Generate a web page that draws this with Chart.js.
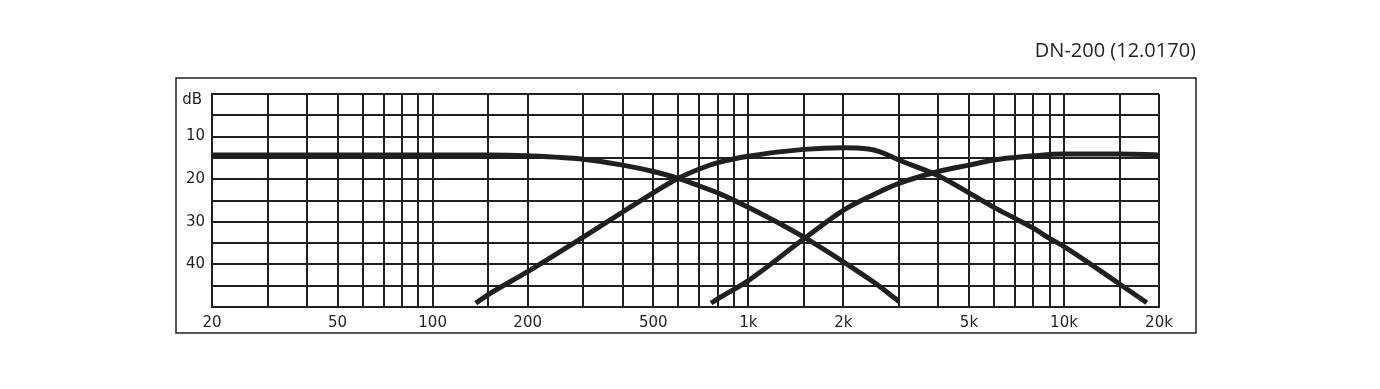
<!DOCTYPE html>
<html lang="en">
<head>
  <meta charset="UTF-8" />
  <title>DN-200 (12.0170)</title>
  <script src="https://cdn.jsdelivr.net/npm/chart.js"></script>
  <style>
    body {
      background-color: white;
      margin: 0;
      padding: 0;
    }

    canvas {
      display: block;
    }
  </style>
</head>
<body>

  <canvas id="xoverChart" width="1380" height="389"></canvas>

  <script>
    // frequency grid (Hz) and which of them get a label
    const gridFreqs = [20, 30, 40, 50, 60, 70, 80, 90, 100, 150, 200, 300, 400, 500, 600, 700, 800, 900,
      1000, 1500, 2000, 3000, 4000, 5000, 6000, 7000, 8000, 9000, 10000, 15000, 20000];
    const labelFreqs = [20, 50, 100, 200, 500, 1000, 2000, 5000, 10000, 20000];
    const labelTexts = ['20', '50', '100', '200', '500', '1k', '2k', '5k', '10k', '20k'];
    const dbLabels = [10, 20, 30, 40];

    // low pass (woofer)
    const lowFreq = [20, 100, 150, 200, 300, 400, 500, 600, 700, 800, 1000, 1500, 2000, 2500, 3000];
    const lowDb   = [14.3, 14.3, 14.3, 14.5, 15.3, 16.7, 18.2, 19.8, 21.6, 23.2, 26.6, 33.6, 39.4, 44.2, 48.7];

    // band pass (mid)
    const midFreq = [137, 150, 200, 300, 400, 500, 600, 700, 800, 1000, 1500, 2000, 2400, 2600, 2800, 3000,
      4000, 5000, 6000, 7000, 8000, 9000, 10000, 15000, 18300];
    const midDb   = [49.1, 47.1, 41.7, 33.6, 27.7, 23.2, 19.8, 17.6, 16.1, 14.6, 13.0, 12.6, 12.9, 13.5, 14.5, 15.5,
      19.2, 23.2, 26.6, 29.2, 31.5, 33.9, 35.8, 44.6, 49.0];

    // high pass (tweeter)
    const highFreq = [762, 800, 1000, 1500, 2000, 2500, 3000, 4000, 5000, 6000, 7000, 8000, 10000, 15000, 20000];
    const highDb   = [49.1, 48.1, 43.8, 34.0, 27.3, 23.6, 21.0, 18.2, 16.7, 15.5, 14.9, 14.5, 14.1, 14.1, 14.3];

    const ink = '#231f20';

    function toPoints(freqs, dbs) {
      return freqs.map((f, i) => ({ x: f, y: dbs[i] }));
    }

    function curve(freqs, dbs) {
      return {
        data: toPoints(freqs, dbs),
        borderColor: ink,
        borderWidth: 5,
        pointRadius: 0,
        fill: false,
        cubicInterpolationMode: 'monotone',
        borderCapStyle: 'butt'
      };
    }

    // frame, title and the "dB" tag
    const extras = {
      id: 'extras',
      afterDraw(chart) {
        const { ctx, chartArea: a, scales: { y } } = chart;
        ctx.save();
        ctx.strokeStyle = ink;
        ctx.lineWidth = 1.5;
        ctx.strokeRect(a.left - 36, a.top - 16, a.right - a.left + 73, a.bottom - a.top + 42);

        ctx.fillStyle = ink;
        ctx.font = '500 20px "Open Sans"';
        ctx.textAlign = 'right';
        ctx.textBaseline = 'alphabetic';
        ctx.fillText('DN-200 (12.0170)', a.right + 37, 57);

        ctx.font = '15px "DejaVu Sans"';
        ctx.textBaseline = 'middle';
        ctx.fillText('dB', a.left - 10, y.getPixelForValue(1.5));
        ctx.restore();
      }
    };

    const ctx = document.getElementById('xoverChart').getContext('2d');
    const chart = new Chart(ctx, {
      type: 'line',
      data: {
        datasets: [
          curve(lowFreq, lowDb),
          curve(midFreq, midDb),
          curve(highFreq, highDb)
        ]
      },
      options: {
        responsive: false,
        animation: false,
        devicePixelRatio: 1,
        layout: { padding: { left: 0, right: 221, top: 94, bottom: 52 } },
        plugins: {
          legend: { display: false },
          tooltip: { enabled: false }
        },
        scales: {
          x: {
            type: 'logarithmic',
            min: 20,
            max: 20000,
            afterBuildTicks: s => { s.ticks = gridFreqs.map(v => ({ value: v })); },
            afterFit: s => { s.height = 30; },
            grid: { color: ink, lineWidth: 2, drawTicks: false },
            border: { color: ink, width: 2 },
            ticks: {
              autoSkip: false,
              maxRotation: 0,
              minRotation: 0,
              padding: 7,
              color: ink,
              font: { family: 'DejaVu Sans', size: 15 },
              callback: v => {
                const i = labelFreqs.indexOf(v);
                return i >= 0 ? labelTexts[i] : '';
              }
            }
          },
          y: {
            type: 'linear',
            reverse: true,
            min: 0,
            max: 50,
            afterFit: s => { s.width = 212; },
            grid: { color: ink, lineWidth: 2, drawTicks: false },
            border: { color: ink, width: 2 },
            ticks: {
              stepSize: 5,
              padding: 7,
              color: ink,
              font: { family: 'DejaVu Sans', size: 15 },
              callback: v => dbLabels.includes(v) ? String(v) : ''
            }
          }
        }
      },
      plugins: [extras]
    });
  </script>
</body>
</html>
